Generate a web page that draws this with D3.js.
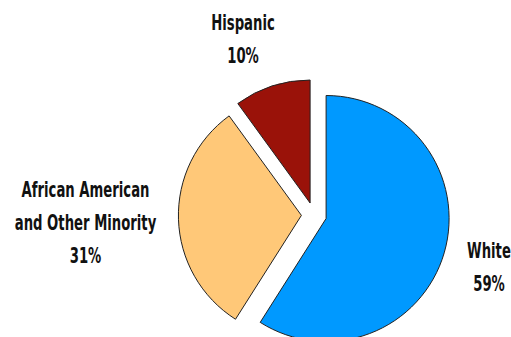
<!DOCTYPE html>
<html>
<head>
<meta charset="utf-8">
<script src="https://cdn.jsdelivr.net/npm/d3@7"></script>
<style>
  html, body { margin: 0; padding: 0; background: #fff; }
  svg { display: block; }
  text { font-family: "Liberation Sans Narrow", "DejaVu Sans Condensed", sans-serif; font-weight: bold; fill: #111; }
</style>
</head>
<body>
<svg id="chart" width="511" height="337"></svg>
<script>
// Population shares by group
const groups = ["White", "African American and Other Minority", "Hispanic"];
const shares = [59, 31, 10];
const colors = ["#0099FF", "#FFC878", "#9A1209"];
// Label lines for each group (wrapped manually)
const labelLines = [["White"], ["African American", "and Other Minority"], ["Hispanic"]];

const svg = d3.select("#chart");
const cx = 314, cy = 215, radius = 123, explode = 12.6;

const pie = d3.pie().sort(null).value(d => d)(shares);
const arc = d3.arc().innerRadius(0).outerRadius(radius);

const g = svg.append("g").attr("transform", `translate(${cx},${cy})`);

g.selectAll("path.slice")
  .data(pie)
  .join("path")
  .attr("class", "slice")
  .attr("d", arc)
  .attr("fill", (d, i) => colors[i])
  .attr("stroke", "#222")
  .attr("stroke-width", 1)
  .attr("transform", d => {
    const a = (d.startAngle + d.endAngle) / 2;
    return `translate(${explode * Math.sin(a)},${-explode * Math.cos(a)})`;
  });

// Label anchor positions (centre x, first baseline y)
const labelPos = [[489, 258], [85.5, 197], [243, 30]];
const lineH = 33;

pie.forEach((d, i) => {
  const lines = labelLines[i].concat([shares[i] + "%"]);
  const [lx, ly] = labelPos[i];
  const t = svg.append("g").attr("transform", `translate(${lx},${ly}) scale(0.7,1)`);
  lines.forEach((s, k) => {
    t.append("text")
      .attr("x", 0)
      .attr("y", k * lineH)
      .attr("text-anchor", "middle")
      .attr("font-size", 21)
      .text(s);
  });
});
</script>
</body>
</html>
